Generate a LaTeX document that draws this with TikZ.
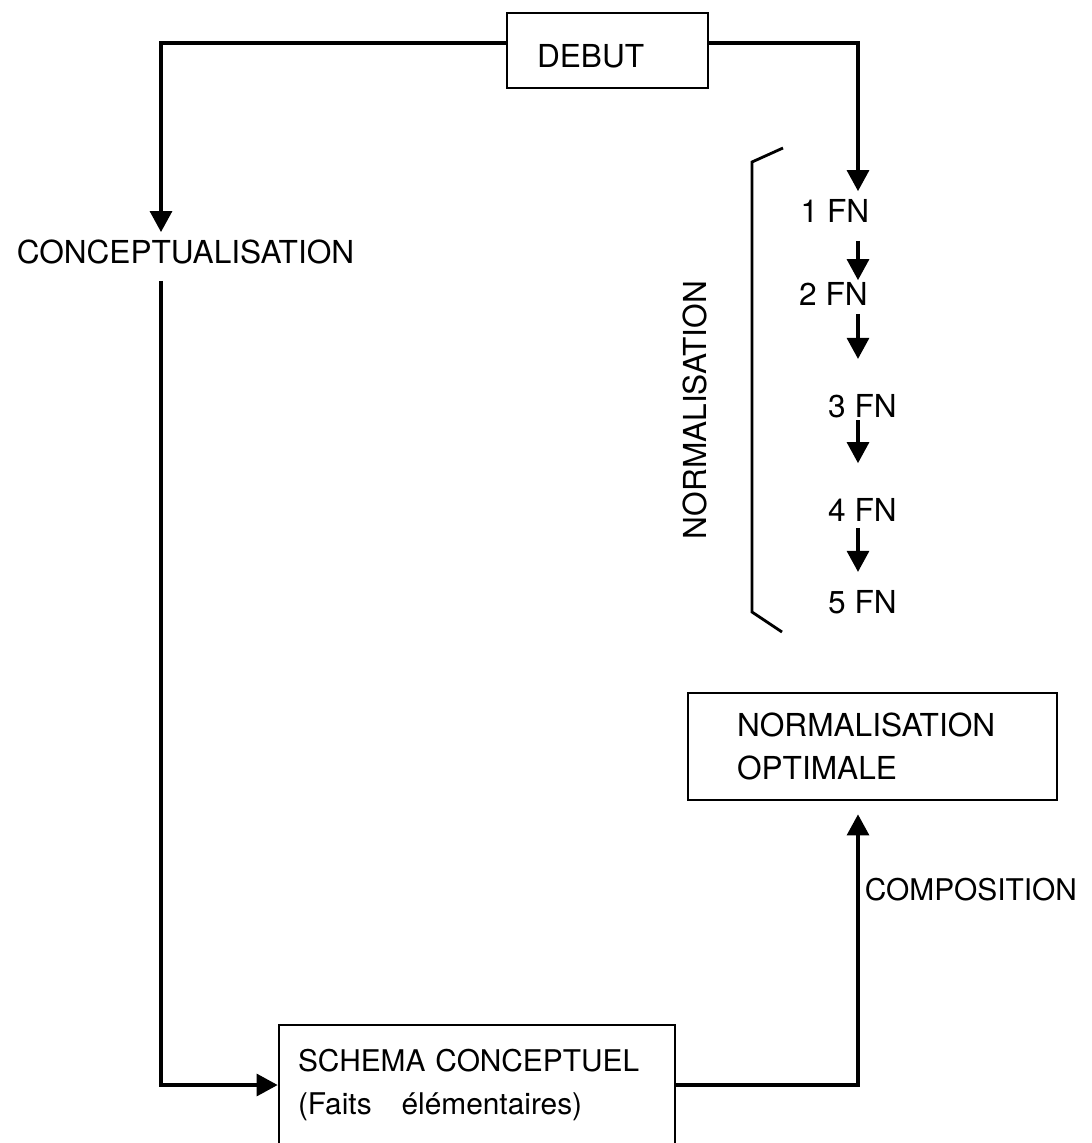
\documentclass[tikz,border=0pt]{standalone}
\usepackage{fontspec}
\setmainfont{TeX Gyre Heros}
\usetikzlibrary{arrows.meta, positioning}

\tikzset{
  boite/.style={draw, line width=1.6pt, inner ysep=0pt, align=left,
                font=\fontsize{18}{25}\selectfont},
  etiq/.style={inner sep=0pt, font=\fontsize{18}{22}\selectfont},
  fleche/.style={line width=1.8pt, -{Triangle[width=0.44cm, length=0.42cm]}},
  trait/.style={line width=1.6pt},
}

\begin{document}
\begin{tikzpicture}[x=0.02cm, y=-0.02cm]
    \useasboundingbox (0,0) rectangle (1092,1143);
    % colonnes des lignes verticales
    \coordinate (colL) at (161,0);
    \coordinate (colR) at (858,0);

    \node[boite, minimum width=4.02cm, minimum height=1.5cm, inner xsep=0.6cm,
          text width=2.82cm, text height=0.7cm, text depth=0cm] (debut) at (607.5,50.5) {DEBUT};
    \node[boite, minimum width=7.92cm, minimum height=2.4cm, inner xsep=0.38cm,
          text width=7.16cm, font=\fontsize{17}{25}\selectfont] (schema) at (477,1085)
          {SCHEMA CONCEPTUEL\\(Faits\quad élémentaires)};
    \node[boite, minimum width=7.38cm, minimum height=2.14cm, inner xsep=0.98cm,
          text width=5.42cm] (normopt) at (872.5,746.5)
          {NORMALISATION\\OPTIMALE};

    \node[etiq] (concept) at (185.5,251.5) {CONCEPTUALISATION};
    \node[etiq, rotate=90] (normlab) at (695,410) {NORMALISATION};

    % les formes normales
    \foreach \i/\x/\y in {1/835/211, 2/833.5/294, 3/862.5/406, 4/862.5/510, 5/862.5/602}
      \node[etiq] (fn\i) at (\x,\y) {\i\ FN};
    \foreach \a/\b/\s/\t in {1/2/0.36/0.04, 2/3/0.16/0.7, 3/4/0.04/0.7, 4/5/0.12/0.36}
      \draw[fleche, shorten <=\s cm, shorten >=\t cm] (fn\a.south -| colR) -- (fn\b.north -| colR);

    \draw[trait] (783,148) -- (752,162) -- (752,612) -- (782,632);

    \draw[fleche, shorten >=0.14cm] ([yshift=0.15cm]debut.west) -| (concept.north -| colL);
    \draw[fleche, shorten <=0.34cm] (concept.south -| colL) |- (schema.west);
    \draw[fleche, shorten >=0.16cm] ([yshift=0.15cm]debut.east) -| (fn1.north -| colR);
    \draw[fleche, shorten >=0.26cm] (schema.east) -| (normopt.south -| colR)
      node[pos=0.845, right=3pt, etiq, font=\fontsize{17}{20}\selectfont] {COMPOSITION};
\end{tikzpicture}
\end{document}
